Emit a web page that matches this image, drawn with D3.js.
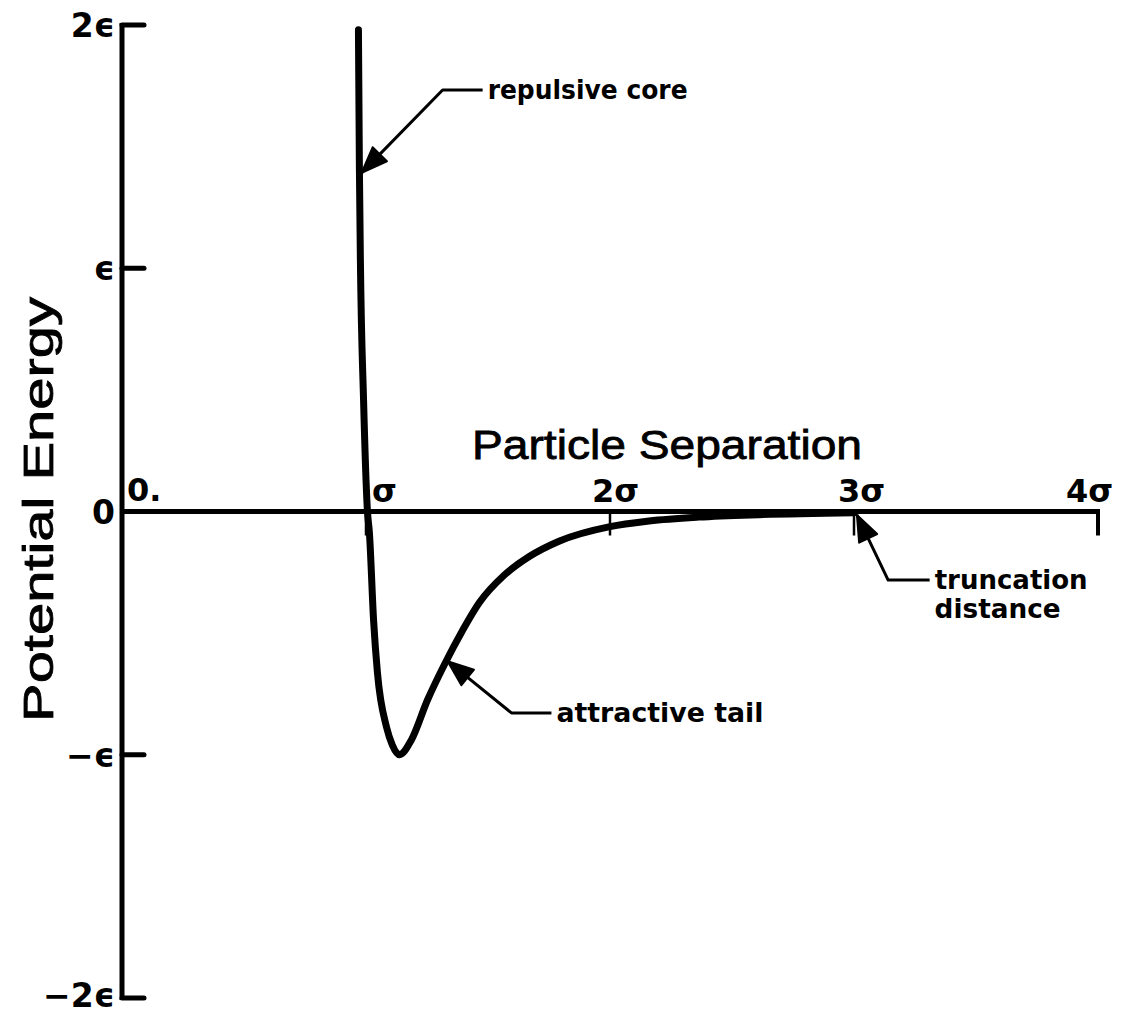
<!DOCTYPE html>
<html>
<head>
<meta charset="utf-8">
<script src="https://cdn.jsdelivr.net/npm/d3@7"></script>
<style>
  html, body { margin: 0; padding: 0; background: #fff; }
  svg { display: block; }
  .lbl { font-family: "DejaVu Sans", "Liberation Sans", sans-serif; font-weight: bold; fill: #000; }
  .title { font-family: "Liberation Sans", Arial, sans-serif; fill: #000; stroke: #000; stroke-width: 0.8px; }
</style>
</head>
<body>
<svg id="chart" width="1121" height="1015"></svg>
<script>
// Potential energy (in units of epsilon) against particle separation (in units of sigma)
const separation = [0.969, 0.973, 0.977, 0.990, 1.006, 1.014, 1.031, 1.047, 1.084, 1.108, 1.137, 1.186, 1.252, 1.321, 1.395, 1.464, 1.566, 1.669, 1.791, 2.000, 2.160, 2.364, 2.610, 3.000];
const energy     = [1.980, 1.404, 1.034, 0.458, 0.000, -0.088, -0.446, -0.664, -0.886, -0.960, -1.000, -0.939, -0.775, -0.630, -0.490, -0.375, -0.262, -0.185, -0.122, -0.062, -0.039, -0.023, -0.013, -0.005];

// Axis ticks and their labels
const xTicks = [1, 2, 3, 4];
const xTickLabels = ["\u03c3", "2\u03c3", "3\u03c3", "4\u03c3"];
const xLabelShift = [6, -18, -16, -32];
const yTicks = [2, 1, 0, -1, -2];
const yTickLabels = ["2\u03f5", "\u03f5", "0", "\u2212\u03f5", "\u22122\u03f5"];

// Callouts: arrow tip, elbow and end of leader, and text lines
const calloutTips   = [[0.982, 1.392], [1.334, -0.615], [3.012, -0.014]];
const calloutElbows = [[1.314, 1.733], [1.596, -0.828], [3.140, -0.282]];
const calloutEnds   = [1.478, 1.760, 3.310];
const calloutTexts  = [["repulsive core"], ["attractive tail"], ["truncation", "distance"]];
const calloutWidths = [[200], [207], [153, 126]];

const svg = d3.select("#chart");
const x = d3.scaleLinear().domain([0, 4]).range([122, 1098]);
const y = d3.scaleLinear().domain([-2, 2]).range([998, 25]);

// Y axis: vertical spine with inward ticks
svg.append("line")
  .attr("x1", x(0)).attr("x2", x(0))
  .attr("y1", y(2) - 2).attr("y2", y(-2) + 2)
  .attr("stroke", "#000").attr("stroke-width", 5);

svg.selectAll(".ytick").data(yTicks.filter(d => d !== 0)).enter().append("line")
  .attr("x1", x(0)).attr("x2", x(0) + 22)
  .attr("y1", d => y(d)).attr("y2", d => y(d))
  .attr("stroke", "#000").attr("stroke-width", 5).attr("stroke-linecap", "round");

svg.selectAll(".ylab").data(yTicks).enter().append("text")
  .attr("class", "lbl")
  .attr("x", 115)
  .attr("y", d => d === -2 ? y(d) + 9 : y(d) + 12)
  .attr("text-anchor", "end")
  .attr("font-size", 33)
  .attr("font-weight", d => d === 0 ? "normal" : "bold")
  .text((d, i) => yTickLabels[i]);

// X axis: horizontal line at zero with downward ticks
svg.append("line")
  .attr("x1", x(0)).attr("x2", x(4) + 2)
  .attr("y1", y(0)).attr("y2", y(0))
  .attr("stroke", "#000").attr("stroke-width", 5);

svg.selectAll(".xtick").data(xTicks).enter().append("line")
  .attr("x1", d => x(d)).attr("x2", d => x(d))
  .attr("y1", y(0)).attr("y2", y(0) + 24)
  .attr("stroke", "#000").attr("stroke-width", d => d === 4 ? 4 : 2.5);

svg.selectAll(".xlab").data(xTicks).enter().append("text")
  .attr("class", "lbl")
  .attr("x", (d, i) => x(d) + xLabelShift[i])
  .attr("y", y(0) - 10)
  .attr("font-size", 32)
  .text((d, i) => xTickLabels[i]);

svg.append("text").attr("class", "lbl")
  .attr("x", x(0) + 5).attr("y", y(0) - 11)
  .attr("font-size", 32).attr("font-weight", "normal")
  .text("0.");

// Axis titles
svg.append("text").attr("class", "title")
  .attr("x", 472).attr("y", 459)
  .attr("font-size", 41)
  .attr("textLength", 390).attr("lengthAdjust", "spacingAndGlyphs")
  .text("Particle Separation");

svg.append("text").attr("class", "title")
  .attr("transform", "translate(53,722) rotate(-90)")
  .attr("font-size", 43)
  .attr("textLength", 425).attr("lengthAdjust", "spacingAndGlyphs")
  .text("Potential Energy");

// Potential curve
const pts = separation.map((r, i) => [r, energy[i]]);
svg.append("path")
  .datum(pts)
  .attr("d", d3.line().x(d => x(d[0])).y(d => y(d[1])).curve(d3.curveMonotoneX))
  .attr("fill", "none").attr("stroke", "#000")
  .attr("stroke-width", 7).attr("stroke-linecap", "round").attr("stroke-linejoin", "round");

// Callouts with leader lines and arrowheads
calloutTips.forEach((tip, i) => {
  const tx = x(tip[0]), ty = y(tip[1]);
  const ex = x(calloutElbows[i][0]), ey = y(calloutElbows[i][1]);
  const endX = x(calloutEnds[i]);
  svg.append("path")
    .attr("d", `M${tx},${ty}L${ex},${ey}L${endX},${ey}`)
    .attr("fill", "none").attr("stroke", "#000").attr("stroke-width", 3)
    .attr("stroke-linejoin", "round");
  const ang = Math.atan2(ey - ty, ex - tx);
  const len = 26, half = 10;
  const bx = tx + len * Math.cos(ang), by = ty + len * Math.sin(ang);
  const nx = -Math.sin(ang) * half, ny = Math.cos(ang) * half;
  svg.append("path")
    .attr("d", `M${tx},${ty}L${bx + nx},${by + ny}L${bx - nx},${by - ny}Z`)
    .attr("fill", "#000").attr("stroke", "#000").attr("stroke-width", 2).attr("stroke-linejoin", "round");
  calloutTexts[i].forEach((t, j) => {
    svg.append("text").attr("class", "lbl")
      .attr("x", endX + 5).attr("y", ey + 9 + j * 29)
      .attr("font-size", 26)
      .attr("textLength", calloutWidths[i][j]).attr("lengthAdjust", "spacingAndGlyphs")
      .text(t);
  });
});
</script>
</body>
</html>
